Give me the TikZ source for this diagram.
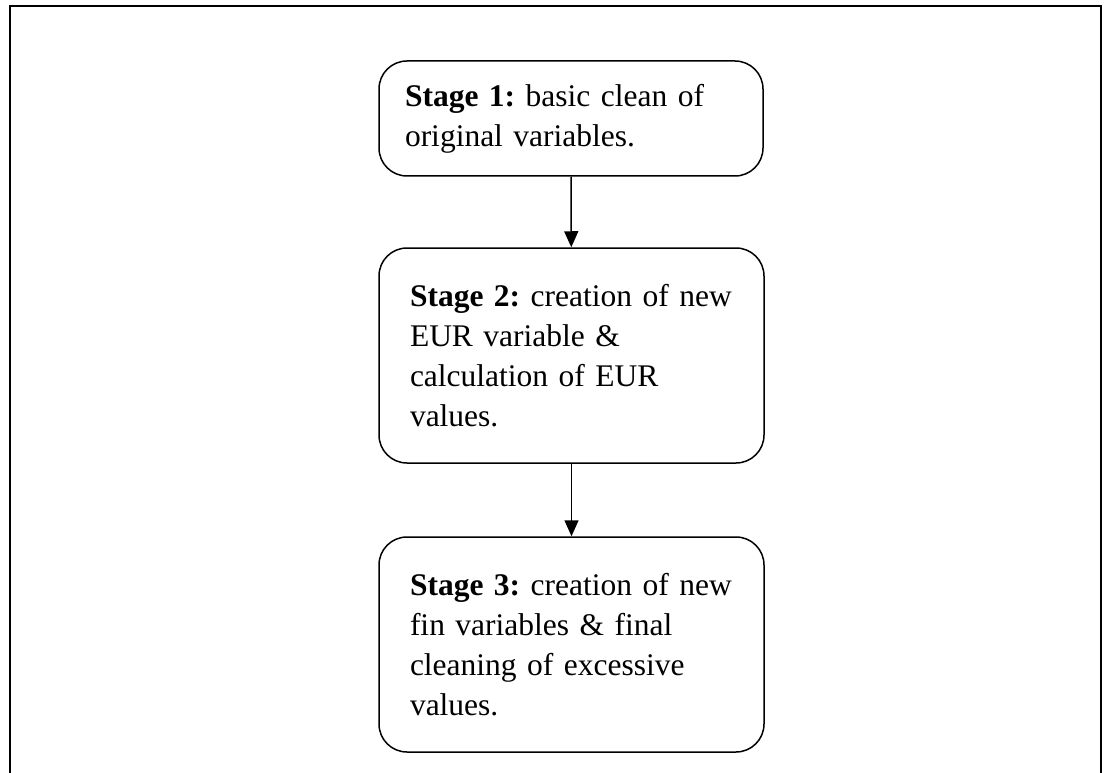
\documentclass[tikz,border=0pt]{standalone}
\usepackage{fontspec}
\setmainfont{Liberation Serif}
\usetikzlibrary{arrows.meta,shapes}

\tikzset{
	stage/.style={draw, line width=1.5pt, rounded corners=28pt, align=left,
		text width=323pt, inner xsep=31pt, inner ysep=0pt, minimum height=215pt,
		font=\fontsize{31.5}{40}\selectfont\frenchspacing},
	flow/.style={line width=1.5pt, -{Triangle[width=14pt,length=16pt]}}
}

\begin{document}
\begin{tikzpicture}[x=1pt,y=-1pt]
	
	\useasboundingbox (0,0) rectangle (1109,773);
	
	% frame, open at the bottom
	\coordinate (fl) at (10,773);
	\coordinate (ftl) at (10,6.5);
	\coordinate (ftr) at (1101,6.5);
	\coordinate (fr) at (1101,773);
	\draw[line width=2pt] (fl) -- (ftl) -- (ftr) -- (fr);
	
	\node[stage, text width=332pt, inner xsep=26pt, minimum height=115pt] (s1) at (571,118.5)
		{\textbf{Stage 1:} basic clean of\\original variables.};
	\node[stage] (s2) at (571.5,355.5)
		{\textbf{Stage 2:} creation of new\\EUR variable \&\\calculation of EUR\\values.};
	\node[stage] (s3) at (571.5,644.5)
		{\textbf{Stage 3:} creation of new\\fin variables \& final\\cleaning of excessive\\values.};
	
	\draw[flow] (s1) -- (s2);
	\draw[flow] (s2) -- (s3);
	
\end{tikzpicture}
\end{document}
